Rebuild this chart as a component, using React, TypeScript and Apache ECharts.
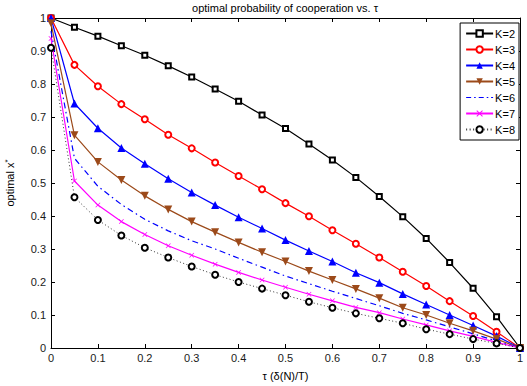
import React, { useEffect, useRef } from "react";
import * as echarts from "echarts";

const xs = [0, 0.05, 0.1, 0.15, 0.2, 0.25, 0.3, 0.35, 0.4, 0.45, 0.5, 0.55, 0.6, 0.65, 0.7, 0.75, 0.8, 0.85, 0.9, 0.95, 1];
const k2 = [1, 0.972, 0.945, 0.916, 0.887, 0.855, 0.821, 0.785, 0.748, 0.706, 0.665, 0.618, 0.57, 0.517, 0.459, 0.398, 0.332, 0.259, 0.181, 0.095, 0];
const k3 = [1, 0.858, 0.793, 0.739, 0.693, 0.646, 0.605, 0.562, 0.521, 0.481, 0.439, 0.399, 0.357, 0.316, 0.274, 0.231, 0.188, 0.142, 0.097, 0.049, 0];
const k4 = [1, 0.741, 0.666, 0.606, 0.558, 0.513, 0.471, 0.433, 0.396, 0.362, 0.327, 0.294, 0.262, 0.228, 0.198, 0.164, 0.132, 0.1, 0.068, 0.036, 0];
const k5 = [0.984, 0.645, 0.564, 0.509, 0.461, 0.42, 0.383, 0.351, 0.32, 0.29, 0.262, 0.233, 0.206, 0.179, 0.151, 0.122, 0.1, 0.075, 0.052, 0.027, 0];
const k6 = [0.96, 0.575, 0.49, 0.435, 0.39, 0.355, 0.325, 0.3, 0.272, 0.245, 0.218, 0.195, 0.172, 0.15, 0.128, 0.105, 0.085, 0.064, 0.043, 0.021, 0];
const k7 = [0.938, 0.506, 0.433, 0.383, 0.344, 0.31, 0.281, 0.254, 0.229, 0.206, 0.184, 0.163, 0.143, 0.123, 0.107, 0.088, 0.07, 0.052, 0.035, 0.017, 0];
const k8 = [0.91, 0.457, 0.388, 0.341, 0.304, 0.274, 0.247, 0.222, 0.2, 0.18, 0.16, 0.14, 0.122, 0.105, 0.09, 0.075, 0.057, 0.042, 0.027, 0.014, 0];

const names = ["K=2", "K=3", "K=4", "K=5", "K=6", "K=7", "K=8"];
const FONT = "Liberation Sans, Arial, sans-serif";

const pair = (ys: number[]) => xs.map((x, i) => [x, ys[i]]);

export default function App() {
  const ref = useRef<HTMLDivElement>(null);
  useEffect(() => {
    if (!ref.current) return;
    const chart = echarts.init(ref.current, undefined, { renderer: "svg" });
    const axisCommon = {
      type: "value" as const,
      min: 0,
      max: 1,
      interval: 0.1,
      axisLine: { show: true, onZero: false, lineStyle: { color: "#000", width: 1 } },
      axisTick: { show: true, inside: true, length: 4, lineStyle: { color: "#000" } },
      splitLine: { show: false },
    };
    const xMarker = "path://M0,1L1,0L5,4L9,0L10,1L6,5L10,9L9,10L5,6L1,10L0,9L4,5Z";
    const dashDotIcon = "path://M0,3.4h5v1.2h-5zM8,3.4h1.6v1.2h-1.6zM12.6,3.4h5v1.2h-5zM20.6,3.4h1.6v1.2h-1.6zM25,3.4h2v1.2h-2zM0,0h0.01v0.01h-0.01zM27,8h0.01v0.01h-0.01z";
    chart.setOption({
      animation: false,
      backgroundColor: "#fff",
      textStyle: { fontFamily: FONT },
      grid: { left: 51, right: 7, top: 18, bottom: 38, outerBoundsMode: "none", containLabel: false },
      graphic: [
        {
          type: "text",
          x: 285,
          y: 8,
          style: {
            text: "optimal probability of cooperation vs. τ",
            align: "center",
            verticalAlign: "middle",
            fontSize: 11,
            fontFamily: FONT,
            fill: "#000",
          },
        },
      ],
      legend: {
        data: names.map((n) => (n === "K=6" ? { name: n, icon: dashDotIcon } : { name: n })),
        orient: "vertical",
        right: 8,
        top: 23,
        itemWidth: 27,
        itemHeight: 8,
        itemGap: 5,
        padding: [5, 4, 5, 5],
        backgroundColor: "#fff",
        borderColor: "#000",
        borderWidth: 1,
        borderRadius: 0,
        textStyle: { fontSize: 11, color: "#000", fontFamily: FONT, padding: [0, 0, 0, -3] },
      },
      xAxis: [
        {
          ...axisCommon,
          position: "bottom",
          name: "τ (δ(N)/T)",
          nameLocation: "middle",
          nameGap: 22,
          nameTextStyle: { fontSize: 11, color: "#000" },
          axisLabel: { fontSize: 11, color: "#1a1a1a", margin: 4, formatter: (v: number) => String(Math.round(v * 10) / 10) },
        },
        {
          ...axisCommon,
          position: "top",
          axisLabel: { show: false },
        },
      ],
      yAxis: [
        {
          ...axisCommon,
          position: "left",
          name: "{a|optimal x}{b|*}",
          nameLocation: "middle",
          nameGap: 34,
          nameRotate: 90,
          nameTextStyle: {
            fontSize: 11,
            color: "#000",
            rich: {
              a: { fontSize: 11, color: "#000", fontFamily: FONT },
              b: { fontSize: 8, color: "#000", fontFamily: FONT, verticalAlign: "top", padding: [0, 0, 6, 0] },
            },
          },
          axisLabel: { fontSize: 11, color: "#1a1a1a", margin: 5, formatter: (v: number) => String(Math.round(v * 10) / 10) },
        },
        {
          ...axisCommon,
          position: "right",
          axisLabel: { show: false },
        },
      ],
      series: [
        {
          name: "K=2",
          type: "line",
          data: pair(k2),
          symbol: "emptyRect",
          symbolSize: 5,
          color: "#000",
          lineStyle: { width: 1.2, color: "#000" },
          itemStyle: { color: "#000", borderWidth: 1.3 },
        },
        {
          name: "K=3",
          type: "line",
          data: pair(k3),
          symbol: "emptyCircle",
          symbolSize: 6,
          color: "#ff0000",
          lineStyle: { width: 1.2, color: "#ff0000" },
          itemStyle: { color: "#ff0000", borderWidth: 1.3 },
        },
        {
          name: "K=4",
          type: "line",
          data: pair(k4),
          symbol: "triangle",
          symbolSize: 8,
          color: "#0000ff",
          lineStyle: { width: 1.2, color: "#0000ff" },
          itemStyle: { color: "#0000ff" },
        },
        {
          name: "K=5",
          type: "line",
          data: pair(k5),
          symbol: "triangle",
          symbolRotate: 180,
          symbolSize: 8,
          color: "#9c4a1a",
          lineStyle: { width: 1.2, color: "#9c4a1a" },
          itemStyle: { color: "#9c4a1a" },
        },
        {
          name: "K=6",
          type: "line",
          data: pair(k6),
          symbol: "none",
          color: "#0000ff",
          lineStyle: { width: 1.2, color: "#0000ff", type: [6, 3.5, 1.5, 3.5] },
          itemStyle: { color: "#0000ff" },
        },
        {
          name: "K=7",
          type: "line",
          data: pair(k7),
          symbol: xMarker,
          symbolSize: 5,
          color: "#ff00ff",
          lineStyle: { width: 1.2, color: "#ff00ff" },
          itemStyle: { color: "#ff00ff" },
        },
        {
          name: "K=8",
          type: "line",
          data: pair(k8),
          symbol: "emptyCircle",
          symbolSize: 6,
          color: "#000",
          lineStyle: { width: 1, color: "#333", type: [1, 2.5] },
          itemStyle: { color: "#000", borderWidth: 1.8 },
        },
      ],
    });
    return () => chart.dispose();
  }, []);
  return <div ref={ref} style={{ width: 527, height: 386, position: "absolute", left: 0, top: 0 }} />;
}
